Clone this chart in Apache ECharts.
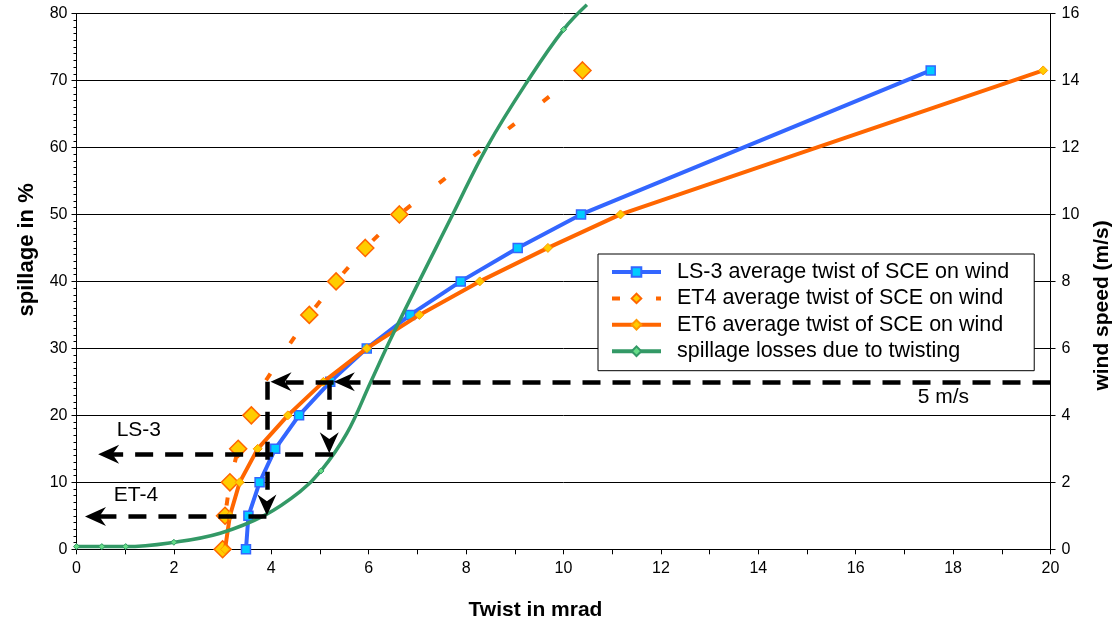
<!DOCTYPE html>
<html><head><meta charset="utf-8">
<script src="https://cdn.jsdelivr.net/npm/echarts@6/dist/echarts.min.js"></script>
<style>html,body{margin:0;padding:0;background:#fff}#c{width:1114px;height:621px}</style>
</head><body><div id="c"></div>
<script>
// ---- data ----
const windSpeeds = [0, 1, 2, 3, 4, 5, 6, 7, 8, 9, 10, 14.3];
const ls3Twist = [3.48, 3.53, 3.76, 4.08, 4.57, 5.21, 5.96, 6.85, 7.89, 9.06, 10.36, 17.54];
const et4Twist = [3.00, 3.05, 3.15, 3.32, 3.59, 3.87, 4.32, 4.78, 5.33, 5.93, 6.63, 10.39];
const et6Twist = [3.05, 3.15, 3.35, 3.72, 4.34, 5.07, 5.96, 7.04, 8.28, 9.68, 11.17, 19.85];
const et4HiddenMarkers = [5, 6];
const spillTwist = [0, 0.52, 1.01, 2.0, 2.95, 3.87, 4.59, 5.02, 5.55, 6.03, 6.51, 7.74, 8.43, 9.28, 10.0, 10.48];
const spillPct = [0.4, 0.4, 0.4, 1.05, 2.4, 5.1, 8.6, 11.7, 17.3, 24.8, 32.3, 50.2, 60.1, 70.1, 77.6, 81.3];
const spillMarkers = [0, 1, 2, 3, 7, 14];
// annotation arrows (in twist / spillage-% units): [start, end]
const arrowLines = [
  [[20, 25], [5.50, 25]],
  [[5.28, 25], [4.20, 25]],
  [[3.91, 25], [3.91, 6.6]],
  [[5.19, 25], [5.19, 15.9]],
  [[5.27, 14.2], [0.66, 14.2]],
  [[3.90, 4.9], [0.39, 4.9]]
];
const annotationNames = ['LS-3', 'ET-4', '5 m/s'];
const annotationCoords = [[1.28, 17.8], [1.22, 8.1], [17.8, 22.7]];
const seriesNames = [
  'LS-3 average twist of SCE on wind',
  'ET4 average twist of SCE on wind',
  'ET6 average twist of SCE on wind',
  'spillage losses due to twisting'
];
const xRange = [0, 20, 2];
const yLeftRange = [0, 80, 10];
const yRightRange = [0, 16, 2];

// ---- chart ----
const FONT = "'Liberation Sans', Arial, sans-serif";
const pair = (xs, ys) => xs.map((x, i) => [x, ys[i]]);
const chart = echarts.init(document.getElementById('c'), null, {renderer: 'canvas'});
const axisCommon = {
  axisLine: {show: true, lineStyle: {color: '#000', width: 1}},
  axisTick: {show: true, length: 5, lineStyle: {color: '#000'}},
  axisLabel: {color: '#000', fontSize: 16, fontFamily: FONT},
  nameTextStyle: {color: '#000', fontSize: 21, fontWeight: 'bold', fontFamily: FONT}
};
const option = {
  animation: false,
  backgroundColor: '#fff',
  grid: {left: 76.5, right: 63.5, top: 13.5, bottom: 71.7, containLabel: false, outerBoundsMode: 'none'},
  legend: {
    orient: 'vertical', left: 598, top: 254,
    backgroundColor: '#fff', borderColor: '#000', borderWidth: 1,
    padding: [7, 25, 8.5, 12], itemGap: 4.4, itemWidth: 49, itemHeight: 12,
    lineStyle: {width: 4},
    textStyle: {color: '#000', fontSize: 21.5, fontFamily: FONT, padding: [0, 0, 0, 11]},
    data: seriesNames
  },
  xAxis: Object.assign({}, axisCommon, {
    type: 'value', min: xRange[0], max: xRange[1], interval: xRange[2],
    minorTick: {show: true, splitNumber: 2, length: 5, lineStyle: {color: '#000'}},
    splitLine: {show: false},
    axisLabel: Object.assign({}, axisCommon.axisLabel, {margin: 11}),
    name: 'Twist in mrad', nameLocation: 'middle', nameGap: 50,
    nameTextStyle: Object.assign({}, axisCommon.nameTextStyle, {padding: [0, 56, 0, 0]})
  }),
  yAxis: [
    Object.assign({}, axisCommon, {
      type: 'value', min: yLeftRange[0], max: yLeftRange[1], interval: yLeftRange[2],
      minorTick: {show: true, splitNumber: 10, length: 3, lineStyle: {color: '#000'}},
      splitLine: {show: true, lineStyle: {color: '#000', width: 1}},
      axisLabel: Object.assign({}, axisCommon.axisLabel, {margin: 9}),
      name: 'spillage in %', nameLocation: 'middle', nameRotate: 90, nameGap: 39,
      nameTextStyle: Object.assign({}, axisCommon.nameTextStyle, {fontSize: 22, padding: [0, 0, 0, 63]})
    }),
    Object.assign({}, axisCommon, {
      type: 'value', position: 'right', min: yRightRange[0], max: yRightRange[1], interval: yRightRange[2],
      splitLine: {show: false},
      axisLabel: Object.assign({}, axisCommon.axisLabel, {margin: 11}),
      name: 'wind speed (m/s)', nameLocation: 'middle', nameRotate: 90, nameGap: 41,
      nameTextStyle: Object.assign({}, axisCommon.nameTextStyle, {padding: [0, 48, 0, 0]})
    })
  ],
  series: [
    {
      name: seriesNames[0], type: 'line', yAxisIndex: 1, z: 3,
      data: pair(ls3Twist, windSpeeds),
      symbol: 'rect', symbolSize: 9,
      lineStyle: {color: '#3366ff', width: 4},
      itemStyle: {color: '#00ccff', borderColor: '#3366ff', borderWidth: 1.5}
    },
    {
      name: seriesNames[1], type: 'line', yAxisIndex: 1, z: 2,
      data: pair(et4Twist, windSpeeds).map((p, i) => et4HiddenMarkers.includes(i) ? {value: p, symbol: 'none'} : p),
      symbol: 'diamond', symbolSize: 17,
      lineStyle: {color: '#ff6600', width: 4, type: [8, 36]},
      itemStyle: {color: '#ffcc00', borderColor: '#ff6600', borderWidth: 1.5}
    },
    {
      name: seriesNames[2], type: 'line', yAxisIndex: 1, z: 4,
      data: pair(et6Twist, windSpeeds),
      symbol: 'diamond', symbolSize: 9,
      lineStyle: {color: '#ff6600', width: 4},
      itemStyle: {color: '#ffcc00', borderColor: '#ff9900', borderWidth: 1}
    },
    {
      name: seriesNames[3], type: 'line', yAxisIndex: 0, z: 5, clip: false,
      smooth: 0.4,
      data: pair(spillTwist, spillPct).map((p, i) => spillMarkers.includes(i) ? p : {value: p, symbol: 'none'}),
      symbol: 'diamond', symbolSize: 6,
      lineStyle: {color: '#339966', width: 3.5},
      itemStyle: {color: '#66dd88', borderColor: '#339966', borderWidth: 1},
      markLine: {
        silent: true, z: 10,
        symbol: ['none', 'path://M10,0 L20,22 L10,15 L0,22 Z'],
        symbolSize: [19, 21],
        lineStyle: {color: '#000', width: 4.5, type: [18, 12]},
        label: {show: false},
        emphasis: {disabled: true},
        data: arrowLines.map(([a, b]) => [{coord: a}, {coord: b}])
      },
      markPoint: {
        silent: true, symbol: 'circle', symbolSize: 1,
        itemStyle: {color: 'rgba(0,0,0,0)'},
        label: {show: true, position: 'inside', formatter: '{b}', color: '#000', fontSize: 21, fontFamily: FONT},
        data: annotationNames.map((n, i) => ({name: n, coord: annotationCoords[i]}))
      }
    }
  ]
};
chart.setOption(option);
</script>
</body></html>
